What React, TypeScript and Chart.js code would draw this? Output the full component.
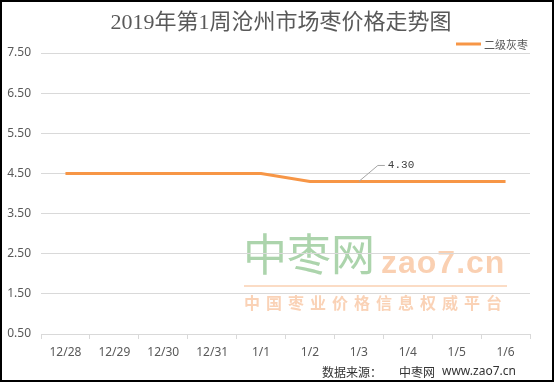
import React, { useEffect, useRef } from "react";
import { Chart, registerables } from "chart.js";

Chart.register(...registerables);

const categories = ["12/28", "12/29", "12/30", "12/31", "1/1", "1/2", "1/3", "1/4", "1/5", "1/6"];
const prices = [4.5, 4.5, 4.5, 4.5, 4.5, 4.3, 4.3, 4.3, 4.3, 4.3];
const yTickValues = [0.5, 1.5, 2.5, 3.5, 4.5, 5.5, 6.5, 7.5];
const seriesName = "二级灰枣";
const titleText = "2019年第1周沧州市场枣价格走势图";
const labelIndex = 6;

const decorPlugin = {
  id: "decor",
  beforeDraw(chart: any) {
    const ctx = chart.ctx;
    ctx.save();
    ctx.fillStyle = "#ffffff";
    ctx.fillRect(0, 0, chart.width, chart.height);
    // watermark
    ctx.textBaseline = "alphabetic";
    ctx.textAlign = "left";
    ctx.fillStyle = "rgb(172,212,172)";
    ctx.font = "44px 'Noto Sans CJK SC'";
    ctx.fillText("中枣网", 243, 271);
    ctx.fillStyle = "rgb(250,208,178)";
    ctx.font = "bold 32px 'Liberation Sans'";
    (ctx as any).letterSpacing = "1px";
    ctx.fillText("zao7.cn", 381, 273);
    (ctx as any).letterSpacing = "6px";
    ctx.font = "bold 16px 'Noto Sans CJK SC'";
    ctx.fillStyle = "rgb(250,210,182)";
    ctx.fillText("中国枣业价格信息权威平台", 244, 309);
    (ctx as any).letterSpacing = "0px";
    ctx.strokeStyle = "rgb(250,208,178)";
    ctx.lineWidth = 1.5;
    ctx.beginPath();
    ctx.moveTo(244, 286);
    ctx.lineTo(507, 286);
    ctx.stroke();
    ctx.restore();
  },
  afterDraw(chart: any) {
    const ctx = chart.ctx;
    ctx.save();
    // title
    ctx.fillStyle = "#595959";
    ctx.font = "22px 'Liberation Serif', 'Noto Sans CJK SC'";
    ctx.textAlign = "center";
    ctx.textBaseline = "middle";
    ctx.fillText(titleText, 281, 23);
    // legend
    ctx.strokeStyle = "#F79646";
    ctx.lineWidth = 3;
    ctx.beginPath();
    ctx.moveTo(456, 44);
    ctx.lineTo(481, 44);
    ctx.stroke();
    ctx.font = "11px 'Noto Sans CJK SC'";
    ctx.textAlign = "left";
    ctx.fillText(seriesName, 484, 45);
    // data label with leader
    const pt = chart.getDatasetMeta(0).data[labelIndex];
    if (pt) {
      ctx.strokeStyle = "#a6a6a6";
      ctx.lineWidth = 1;
      ctx.beginPath();
      ctx.moveTo(pt.x, pt.y);
      ctx.lineTo(pt.x + 19, pt.y - 16);
      ctx.lineTo(pt.x + 26, pt.y - 16);
      ctx.stroke();
      ctx.fillStyle = "#404040";
      ctx.font = "11px 'Liberation Mono'";
      ctx.textBaseline = "middle";
      ctx.fillText(prices[labelIndex].toFixed(2), pt.x + 29, pt.y - 16);
    }
    // source
    ctx.fillStyle = "#333333";
    ctx.font = "12px 'Noto Sans CJK SC'";
    ctx.textBaseline = "middle";
    ctx.fillText("数据来源：", 322, 372);
    ctx.fillText("中枣网", 399, 372);
    ctx.font = "12px 'Noto Sans'";
    ctx.fillText("www.zao7.cn", 442, 372);
    // border
    ctx.strokeStyle = "#000000";
    ctx.lineWidth = 2;
    ctx.strokeRect(1, 1, 552, 380);
    ctx.restore();
  },
};

export default function App() {
  const ref = useRef<HTMLCanvasElement>(null);
  useEffect(() => {
    if (!ref.current) return;
    const chart = new Chart(ref.current, {
      type: "line",
      data: {
        labels: categories,
        datasets: [
          {
            label: seriesName,
            data: prices,
            borderColor: "#F79646",
            backgroundColor: "#F79646",
            borderWidth: 3,
            pointRadius: 0,
            tension: 0,
            fill: false,
          },
        ],
      },
      options: {
        responsive: false,
        animation: false,
        devicePixelRatio: 1,
        layout: { padding: { left: 0, top: 53, right: 26, bottom: 10 } },
        plugins: {
          legend: { display: false },
          title: { display: false },
          tooltip: { enabled: false },
        },
        scales: {
          x: {
            type: "category",
            offset: true,
            afterFit: (s: any) => {
              s.height = 40;
            },
            grid: {
              offset: true,
              drawOnChartArea: false,
              drawTicks: true,
              tickLength: 5,
              color: "#d9d9d9",
            },
            border: { display: true, color: "#d9d9d9" },
            ticks: {
              color: "#595959",
              font: { family: "'Noto Sans'", size: 12 },
              padding: 6,
              maxRotation: 0,
              autoSkip: false,
            },
          },
          y: {
            min: 0.5,
            max: 7.5,
            afterFit: (s: any) => {
              s.width = 41;
            },
            afterBuildTicks: (s: any) => {
              s.ticks = yTickValues.map((v) => ({ value: v }));
            },
            grid: { color: "#d9d9d9", drawTicks: false, lineWidth: 1 },
            border: { display: false },
            ticks: {
              color: "#595959",
              font: { family: "'Noto Sans'", size: 12 },
              padding: 10,
              callback: (v: any) => Number(v).toFixed(2),
            },
          },
        },
      },
      plugins: [decorPlugin],
    });
    return () => chart.destroy();
  }, []);
  return (
    <div style={{ position: "fixed", left: 0, top: 0, width: 556, height: 384 }}>
      <canvas ref={ref} width={556} height={384} style={{ display: "block" }} />
    </div>
  );
}
